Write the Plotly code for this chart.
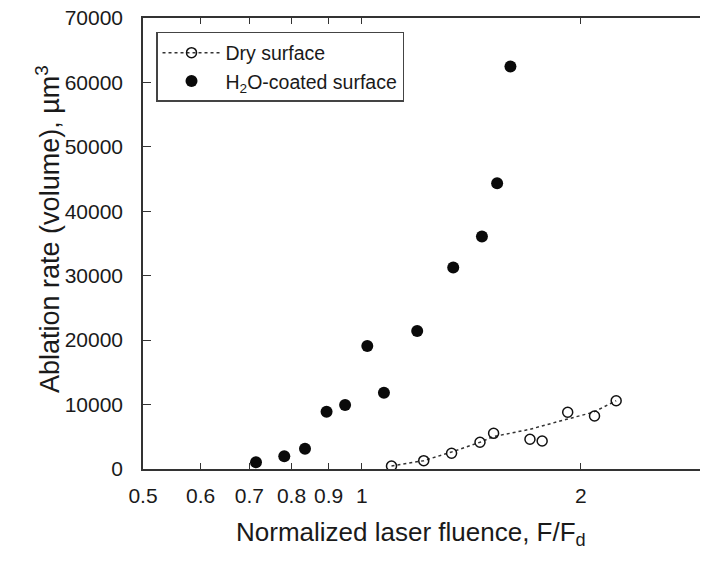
import plotly.graph_objects as go

# Dry surface (open circles)
dry_x = [1.098, 1.216, 1.328, 1.453, 1.517, 1.702, 1.769, 1.918, 2.088, 2.236]
dry_y = [470, 1290, 2440, 4150, 5540, 4610, 4350, 8800, 8230, 10600]

# dotted trend line through the dry data
fit_x = [1.098, 1.216, 1.328, 1.453, 1.515, 1.702, 1.911, 2.079, 2.236]
fit_y = [470, 1290, 2640, 4150, 5020, 6160, 7720, 8800, 10600]

# H2O-coated surface (filled circles)
wet_x = [0.715, 0.782, 0.835, 0.894, 0.948, 1.017, 1.072, 1.191, 1.335, 1.462, 1.534, 1.60]
wet_y = [1040, 1970, 3150, 8900, 9940, 19100, 11850, 21430, 31260, 36070, 44360, 62470]

x_ticks = [0.5, 0.6, 0.7, 0.8, 0.9, 1, 2]
x_labels = ["0.5", "0.6", "0.7", "0.8", "0.9", "1", "2"]
y_ticks = [0, 10000, 20000, 30000, 40000, 50000, 60000, 70000]

FONT = "Liberation Sans, Arial, sans-serif"
INK = "#1a1a1a"
AXIS = "#333333"

fig = go.Figure()

# trend line (no legend entry; legend sample comes from the dummy trace below)
fig.add_trace(go.Scatter(
    x=fit_x, y=fit_y, mode="lines",
    line=dict(color="#333333", width=1.5, dash="dot"),
    showlegend=False, hoverinfo="skip"
))

fig.add_trace(go.Scatter(
    x=dry_x, y=dry_y, mode="markers",
    marker=dict(symbol="circle-open", size=10, color="#111111", line=dict(width=1.5)),
    showlegend=False
))

# legend sample for dry surface: dotted line with open circle
fig.add_trace(go.Scatter(
    x=[None], y=[None], mode="lines+markers", name="Dry surface",
    line=dict(color="#333333", width=1.5, dash="dot"),
    marker=dict(symbol="circle-open", size=10, color="#111111", line=dict(width=1.5)),
))

fig.add_trace(go.Scatter(
    x=wet_x, y=wet_y, mode="markers", name="H<sub>2</sub>O-coated surface",
    marker=dict(symbol="circle", size=12, color="#0a0a0a"),
))

# the page body adds an 8px offset, so margins are trimmed by that much
fig.update_layout(
    width=708, height=561,
    margin=dict(l=135, r=7, t=10, b=100),
    paper_bgcolor="white", plot_bgcolor="white",
    font=dict(family=FONT, color=INK, size=21),
    legend=dict(
        x=0.023, y=0.969, xanchor="left", yanchor="top",
        bordercolor="#444444", borderwidth=1.5, bgcolor="white",
        font=dict(size=19.5, color=INK),
        itemwidth=58, tracegroupgap=0,
    ),
    xaxis=dict(
        type="log", range=[-0.30103, 0.4771],
        tickvals=x_ticks, ticktext=x_labels,
        ticks="inside", ticklen=6, tickwidth=1.2, tickcolor=AXIS,
        showline=True, linecolor=AXIS, linewidth=1.5, mirror="ticks",
        showgrid=False, zeroline=False, automargin=False,
        ticklabelstandoff=7, ticklabeloverflow="allow",
    ),
    yaxis=dict(
        range=[0, 70000],
        tickvals=y_ticks, tickformat="d",
        ticks="inside", ticklen=8, tickwidth=1.2, tickcolor=AXIS,
        showline=True, linecolor=AXIS, linewidth=1.5, mirror="ticks",
        showgrid=False, zeroline=False, automargin=False,
        ticklabelstandoff=14, ticklabeloverflow="allow",
    ),
)

fig.add_annotation(
    text="Normalized laser fluence, F/F<sub>d</sub>",
    xref="paper", yref="paper", x=0.473, y=0, yshift=-64,
    xanchor="center", yanchor="middle", showarrow=False,
    font=dict(size=26, color=INK),
)
fig.add_annotation(
    text="Ablation rate (volume), \u00b5m<sup>3</sup>",
    xref="paper", yref="paper", x=-0.168, y=0.532,
    xanchor="center", yanchor="middle", textangle=-90, showarrow=False,
    font=dict(size=27, color=INK),
)

fig.write_html("out.html")
